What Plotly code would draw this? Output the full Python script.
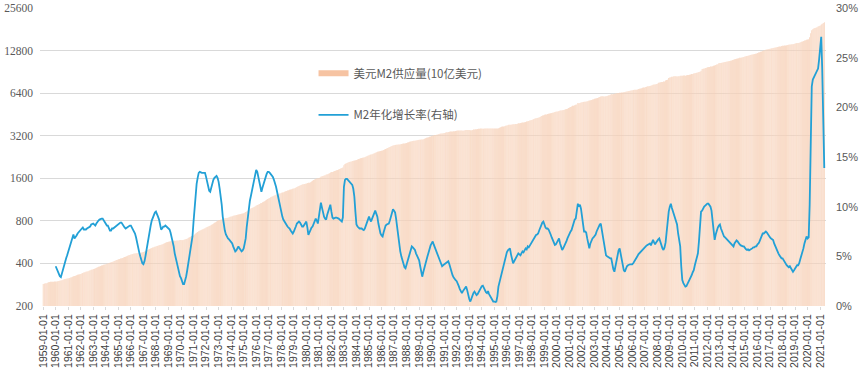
import plotly.graph_objects as go
import pandas as pd
import math

# ---------------- data ----------------
start_month = "1959-01-01"

# US M2 money supply (billions of USD), monthly, 1959-01 .. 2021-05
m2_by_year = {
    1959: [286.6, 287.7, 289.2, 290.1, 292.2, 294.1, 295.2, 296.4, 296.7, 296.5, 297.1, 297.8],
    1960: [298.2, 298.5, 298.9, 300.2, 301.9, 302.4, 304.6, 306.9, 308.8, 309.9, 311.4, 312.4],
    1961: [313.9, 315.9, 317.9, 319.9, 322.2, 324.1, 325.3, 327.6, 329.7, 332.2, 334.6, 335.5],
    1962: [337.2, 339.8, 342.9, 344.7, 346.6, 348.7, 350.4, 352.5, 354.8, 357.7, 360.7, 362.7],
    1963: [365.1, 367.3, 370.3, 373.3, 376.1, 378.6, 381.2, 383.8, 386.2, 389.1, 391.4, 393.2],
    1964: [395.4, 397.4, 400.1, 402.1, 404.3, 407.3, 410.2, 413.4, 416.9, 420.0, 422.4, 424.7],
    1965: [427.7, 430.5, 432.8, 435.3, 437.3, 440.5, 443.5, 446.8, 450.3, 453.6, 456.6, 459.2],
    1966: [462.6, 465.0, 467.3, 469.6, 470.7, 472.0, 472.3, 473.2, 475.0, 475.8, 477.5, 480.2],
    1967: [482.6, 485.6, 490.1, 494.7, 497.3, 501.5, 506.2, 510.4, 514.2, 517.9, 521.2, 524.8],
    1968: [527.8, 530.7, 534.3, 536.8, 539.8, 542.5, 546.2, 551.4, 555.6, 560.2, 563.8, 566.8],
    1969: [569.3, 571.9, 574.3, 575.0, 577.4, 578.4, 578.7, 579.2, 580.0, 580.6, 582.2, 585.9],
    1970: [586.1, 583.9, 585.2, 588.6, 593.1, 596.3, 601.1, 606.5, 612.0, 617.3, 622.5, 626.5],
    1971: [631.0, 640.8, 651.7, 659.8, 668.2, 675.0, 680.6, 686.1, 692.5, 697.7, 703.3, 710.3],
    1972: [717.2, 723.9, 730.9, 736.1, 742.6, 749.9, 758.1, 766.3, 774.2, 781.8, 790.5, 802.3],
    1973: [807.2, 812.4, 815.0, 818.9, 825.0, 831.3, 835.1, 837.2, 839.0, 842.4, 849.8, 855.5],
    1974: [859.2, 863.8, 869.4, 873.3, 876.0, 880.1, 883.5, 886.3, 889.2, 894.0, 898.1, 902.1],
    1975: [906.7, 914.2, 922.6, 931.5, 942.4, 956.0, 967.7, 976.6, 985.5, 992.4, 1000.5, 1016.2],
    1976: [1025.7, 1035.0, 1043.9, 1054.6, 1065.0, 1070.0, 1081.2, 1092.4, 1102.4, 1114.8, 1127.5, 1140.0],
    1977: [1151.0, 1162.5, 1172.7, 1183.6, 1194.2, 1203.1, 1212.6, 1222.1, 1231.5, 1240.4, 1249.3, 1256.1],
    1978: [1263.0, 1269.4, 1276.2, 1285.3, 1295.4, 1303.1, 1309.6, 1318.2, 1328.0, 1334.0, 1339.7, 1348.8],
    1979: [1354.9, 1362.4, 1373.9, 1387.9, 1399.3, 1413.8, 1424.6, 1435.3, 1444.7, 1452.7, 1457.0, 1462.1],
    1980: [1470.4, 1479.5, 1485.6, 1488.9, 1501.5, 1520.4, 1539.1, 1554.9, 1567.6, 1580.0, 1591.4, 1599.8],
    1981: [1605.5, 1616.5, 1638.0, 1654.8, 1662.1, 1672.1, 1683.7, 1698.5, 1711.9, 1723.6, 1738.0, 1755.5],
    1982: [1770.8, 1775.3, 1789.3, 1801.6, 1810.7, 1820.0, 1831.3, 1846.3, 1862.6, 1878.8, 1892.1, 1907.1],
    1983: [1980.0, 2017.5, 2037.9, 2051.4, 2068.6, 2083.8, 2096.2, 2106.3, 2116.3, 2128.6, 2140.0, 2149.6],
    1984: [2157.1, 2173.3, 2187.3, 2199.9, 2212.8, 2225.2, 2234.4, 2244.0, 2256.0, 2268.4, 2289.5, 2310.4],
    1985: [2330.2, 2345.8, 2359.8, 2368.7, 2384.7, 2408.3, 2428.7, 2446.4, 2460.9, 2472.6, 2484.2, 2497.3],
    1986: [2508.1, 2518.0, 2532.8, 2557.3, 2582.4, 2602.4, 2624.3, 2642.8, 2664.6, 2684.5, 2701.1, 2732.1],
    1987: [2741.5, 2749.7, 2757.3, 2766.5, 2773.2, 2775.5, 2782.6, 2791.5, 2804.1, 2816.6, 2822.2, 2826.4],
    1988: [2847.7, 2865.5, 2882.0, 2901.2, 2914.2, 2927.5, 2939.2, 2946.7, 2954.0, 2960.5, 2975.7, 2988.2],
    1989: [2993.1, 2997.9, 3004.6, 3011.9, 3019.7, 3041.6, 3066.1, 3089.4, 3109.4, 3126.3, 3145.4, 3160.0],
    1990: [3182.1, 3199.8, 3214.3, 3231.1, 3236.0, 3252.9, 3268.4, 3289.3, 3307.0, 3314.2, 3321.2, 3329.3],
    1991: [3340.5, 3362.2, 3379.5, 3391.2, 3404.4, 3419.2, 3422.4, 3427.9, 3431.0, 3436.7, 3445.4, 3457.3],
    1992: [3468.2, 3482.1, 3488.4, 3487.7, 3483.4, 3477.1, 3474.3, 3481.0, 3494.6, 3507.6, 3509.7, 3515.0],
    1993: [3512.1, 3503.9, 3504.0, 3509.6, 3536.0, 3544.6, 3551.0, 3557.6, 3567.3, 3578.1, 3589.6, 3599.4],
    1994: [3593.8, 3588.5, 3587.2, 3592.3, 3601.0, 3592.6, 3600.8, 3602.4, 3602.3, 3598.3, 3599.6, 3604.1],
    1995: [3600.0, 3601.1, 3598.8, 3604.9, 3618.1, 3648.9, 3672.8, 3699.0, 3715.5, 3722.6, 3732.7, 3758.5],
    1996: [3772.9, 3789.9, 3820.1, 3823.8, 3831.4, 3843.8, 3852.9, 3855.8, 3864.6, 3878.2, 3895.0, 3913.3],
    1997: [3921.3, 3931.2, 3946.4, 3974.0, 3973.4, 3985.4, 4002.8, 4028.6, 4052.6, 4072.4, 4098.3, 4121.3],
    1998: [4131.0, 4170.8, 4197.8, 4226.9, 4249.9, 4269.8, 4291.9, 4324.8, 4362.4, 4409.2, 4441.8, 4472.5],
    1999: [4494.0, 4512.4, 4528.2, 4558.6, 4578.1, 4594.5, 4616.5, 4635.2, 4653.0, 4676.5, 4703.3, 4727.0],
    2000: [4741.2, 4754.2, 4787.7, 4815.8, 4818.8, 4837.3, 4859.6, 4892.0, 4925.9, 4943.0, 4967.6, 5015.0],
    2001: [5061.4, 5108.3, 5149.2, 5214.8, 5211.1, 5259.1, 5293.4, 5325.6, 5450.4, 5418.4, 5458.0, 5502.4],
    2002: [5525.7, 5546.6, 5559.3, 5563.1, 5592.4, 5604.3, 5644.3, 5677.1, 5696.2, 5733.6, 5773.6, 5805.5],
    2003: [5842.2, 5869.4, 5880.3, 5917.5, 5962.1, 6000.5, 6052.1, 6086.6, 6075.6, 6065.1, 6066.4, 6072.0],
    2004: [6104.0, 6147.1, 6184.1, 6243.1, 6298.8, 6296.6, 6316.1, 6330.2, 6363.5, 6388.2, 6413.4, 6427.7],
    2005: [6433.2, 6450.1, 6463.9, 6465.0, 6486.0, 6518.8, 6535.3, 6564.5, 6597.7, 6623.8, 6646.5, 6671.3],
    2006: [6699.5, 6730.6, 6751.4, 6761.6, 6759.3, 6800.1, 6838.6, 6866.3, 6899.5, 6941.6, 6976.4, 7004.3],
    2007: [7027.0, 7061.0, 7097.7, 7150.9, 7174.3, 7191.5, 7214.5, 7292.3, 7338.4, 7354.3, 7381.7, 7415.8],
    2008: [7468.6, 7570.3, 7622.6, 7645.5, 7660.9, 7677.1, 7721.8, 7730.3, 7847.0, 7934.4, 7966.5, 8190.5],
    2009: [8262.3, 8289.6, 8347.2, 8355.3, 8421.3, 8413.7, 8412.0, 8385.3, 8419.9, 8443.0, 8480.2, 8495.0],
    2010: [8482.6, 8532.7, 8513.6, 8502.7, 8574.6, 8598.4, 8604.8, 8643.2, 8686.2, 8726.9, 8752.6, 8802.9],
    2011: [8830.5, 8893.2, 8929.0, 8957.6, 9013.6, 9080.4, 9227.8, 9484.7, 9539.1, 9567.4, 9629.7, 9658.3],
    2012: [9742.4, 9786.2, 9797.6, 9858.2, 9887.5, 9935.4, 9987.9, 10030.5, 10114.2, 10183.0, 10249.6, 10409.4],
    2013: [10454.8, 10475.1, 10502.9, 10546.2, 10586.4, 10612.3, 10652.0, 10701.9, 10751.5, 10803.0, 10830.9, 10877.8],
    2014: [10974.0, 11044.3, 11105.7, 11151.7, 11208.0, 11263.0, 11296.6, 11365.8, 11395.1, 11418.0, 11471.4, 11540.3],
    2015: [11607.9, 11680.1, 11704.3, 11752.4, 11828.4, 11888.4, 11939.1, 11996.1, 12046.2, 12093.0, 12154.4, 12207.9],
    2016: [12312.8, 12390.1, 12459.4, 12565.7, 12611.0, 12704.5, 12789.9, 12855.5, 12947.2, 13022.0, 13096.3, 13138.3],
    2017: [13172.4, 13233.4, 13301.4, 13341.5, 13397.8, 13469.3, 13530.9, 13577.2, 13618.6, 13667.0, 13696.1, 13776.9],
    2018: [13821.1, 13853.1, 13887.6, 13912.0, 13959.8, 14011.4, 14061.4, 14123.0, 14142.1, 14169.5, 14185.5, 14267.3],
    2019: [14353.4, 14426.5, 14457.1, 14474.1, 14557.5, 14656.2, 14772.5, 14862.0, 14949.5, 15077.5, 15153.8, 15251.7],
    2020: [15319.2, 15414.9, 15913.7, 16985.8, 17809.6, 18122.7, 18316.9, 18459.4, 18592.6, 18733.6, 18916.8, 19124.1],
    2021: [19268.0, 19542.0, 19788.0, 20047.0, 20269.0],
}

# M2 year-over-year growth rate (%), monthly, 1960-01 .. 2021-05
growth_by_year = {
    1960: [4.0, 3.7, 3.4, 3.3, 3.0, 2.9, 3.3, 3.8, 4.1, 4.5, 4.8, 5.1],
    1961: [5.5, 5.9, 6.3, 6.7, 7.0, 7.2, 6.8, 6.9, 7.1, 7.3, 7.4, 7.5],
    1962: [7.6, 7.8, 7.9, 7.7, 7.7, 7.7, 7.8, 7.9, 7.9, 8.0, 8.2, 8.3],
    1963: [8.3, 8.2, 8.1, 8.3, 8.5, 8.6, 8.7, 8.8, 8.8, 8.8, 8.6, 8.4],
    1964: [8.3, 8.1, 8.1, 7.9, 7.6, 7.6, 7.8, 7.8, 7.9, 8.0, 8.1, 8.2],
    1965: [8.3, 8.3, 8.4, 8.4, 8.2, 8.0, 7.9, 7.8, 7.9, 8.0, 8.1, 8.1],
    1966: [8.1, 7.9, 7.8, 7.6, 7.3, 6.9, 6.3, 5.9, 5.4, 5.0, 4.6, 4.3],
    1967: [4.2, 4.5, 5.0, 5.7, 6.4, 7.0, 7.6, 8.1, 8.6, 8.9, 9.2, 9.4],
    1968: [9.5, 9.3, 9.0, 8.7, 8.2, 7.7, 7.8, 8.0, 8.0, 8.1, 8.0, 7.9],
    1969: [7.8, 7.7, 7.4, 7.0, 6.6, 6.0, 5.3, 4.8, 4.3, 3.8, 3.4, 3.0],
    1970: [2.8, 2.5, 2.2, 2.2, 2.5, 3.0, 3.6, 4.3, 5.0, 5.7, 6.3, 7.0],
    1971: [8.5, 10.0, 11.0, 12.3, 12.9, 13.4, 13.5, 13.4, 13.4, 13.4, 13.4, 13.4],
    1972: [13.0, 12.4, 12.0, 11.6, 11.5, 12.0, 12.5, 12.7, 12.9, 13.0, 13.1, 12.9],
    1973: [12.5, 11.8, 11.2, 10.2, 9.0, 8.2, 7.6, 7.2, 6.9, 6.8, 6.7, 6.6],
    1974: [6.5, 6.3, 6.0, 5.7, 5.5, 5.6, 5.8, 6.0, 5.8, 5.6, 5.5, 5.6],
    1975: [5.8, 6.3, 6.8, 8.0, 9.0, 10.0, 10.6, 11.1, 11.7, 12.2, 12.8, 13.3],
    1976: [13.7, 13.5, 13.0, 12.4, 12.0, 11.5, 11.9, 12.3, 12.7, 13.0, 13.3, 13.5],
    1977: [13.5, 13.4, 13.3, 13.2, 13.0, 12.7, 12.4, 12.0, 11.5, 11.0, 10.3, 10.0],
    1978: [9.6, 9.0, 8.7, 8.5, 8.3, 8.1, 8.0, 7.9, 7.8, 7.6, 7.4, 7.3],
    1979: [7.5, 7.7, 8.0, 8.3, 8.4, 8.5, 8.4, 8.2, 8.0, 8.0, 8.2, 8.4],
    1980: [8.5, 7.9, 7.15, 7.4, 7.7, 7.9, 8.0, 8.3, 8.6, 8.8, 8.6, 8.3],
    1981: [9.0, 9.7, 10.4, 9.9, 9.4, 9.0, 8.8, 8.7, 9.2, 9.6, 10.0, 10.2],
    1982: [9.5, 8.9, 8.8, 8.9, 8.9, 8.9, 8.8, 8.8, 8.7, 8.6, 8.5, 8.9],
    1983: [12.0, 12.7, 12.8, 12.8, 12.7, 12.6, 12.5, 12.4, 12.2, 11.8, 11.0, 9.5],
    1984: [8.2, 8.0, 7.9, 7.8, 7.8, 7.8, 7.7, 7.65, 7.8, 8.1, 8.5, 8.9],
    1985: [9.0, 8.7, 8.5, 8.8, 9.1, 9.4, 9.6, 9.3, 9.0, 8.3, 7.6, 7.3],
    1986: [7.1, 7.0, 7.4, 7.8, 8.1, 8.2, 8.3, 8.3, 8.6, 9.0, 9.4, 9.75],
    1987: [9.6, 9.4, 8.8, 7.9, 6.9, 6.0, 5.5, 5.0, 4.6, 4.2, 3.9, 3.8],
    1988: [4.2, 4.6, 5.0, 5.4, 5.7, 6.0, 5.9, 5.8, 5.65, 5.3, 5.0, 4.7],
    1989: [4.6, 4.0, 3.4, 2.95, 3.4, 3.9, 4.3, 4.6, 5.0, 5.4, 5.8, 6.1],
    1990: [6.3, 6.5, 6.2, 5.9, 5.6, 5.3, 5.1, 4.8, 4.5, 4.2, 4.0, 4.1],
    1991: [4.2, 4.3, 4.4, 4.5, 4.5, 4.2, 3.8, 3.4, 3.1, 2.9, 2.7, 2.6],
    1992: [2.5, 2.3, 2.0, 1.7, 1.5, 1.3, 1.5, 1.7, 1.9, 1.95, 1.6, 1.1],
    1993: [0.7, 0.45, 0.8, 1.1, 1.3, 1.45, 1.3, 1.1, 1.2, 1.4, 1.6, 1.8],
    1994: [2.0, 2.05, 1.8, 1.5, 1.4, 1.3, 1.5, 1.2, 1.0, 0.8, 0.6, 0.45],
    1995: [0.45, 0.4, 0.45, 1.0, 1.95, 2.4, 2.9, 3.3, 3.6, 4.1, 4.6, 5.1],
    1996: [5.4, 5.6, 5.7, 5.8, 5.2, 4.7, 4.3, 4.5, 4.7, 4.9, 5.1, 5.3],
    1997: [5.2, 5.1, 5.3, 5.5, 5.4, 5.6, 5.8, 5.7, 6.0, 5.9, 6.1, 6.3],
    1998: [6.5, 6.7, 6.9, 7.0, 7.15, 7.2, 7.3, 7.6, 7.9, 8.2, 8.4, 8.5],
    1999: [8.1, 7.9, 7.8, 7.8, 7.7, 7.5, 7.2, 6.9, 6.6, 6.4, 6.15, 6.2],
    2000: [6.4, 6.6, 6.8, 6.3, 5.9, 5.65, 5.8, 6.0, 6.2, 6.5, 6.8, 7.1],
    2001: [7.3, 7.5, 7.65, 8.0, 8.4, 8.7, 8.8, 9.6, 10.3, 10.0, 10.2, 9.8],
    2002: [9.0, 8.2, 7.5, 7.5, 7.4, 6.8, 6.3, 5.8, 6.3, 6.6, 6.8, 6.9],
    2003: [7.0, 7.2, 7.5, 7.8, 8.0, 8.2, 8.3, 7.6, 6.8, 6.0, 5.5, 5.1],
    2004: [5.0, 4.9, 4.9, 4.8, 4.8, 4.2, 3.7, 3.45, 4.0, 4.6, 5.2, 5.6],
    2005: [5.8, 5.2, 4.6, 4.0, 3.6, 3.45, 3.8, 4.0, 4.1, 4.2, 4.2, 4.2],
    2006: [4.2, 4.3, 4.5, 4.7, 4.9, 5.0, 5.2, 5.3, 5.5, 5.6, 5.7, 5.8],
    2007: [5.9, 6.0, 6.1, 6.2, 6.3, 6.3, 6.1, 6.3, 6.65, 6.4, 6.2, 6.4],
    2008: [6.6, 6.7, 6.8, 6.5, 6.0, 5.8, 5.65, 5.9, 6.4, 7.65, 8.5, 9.5],
    2009: [10.0, 10.3, 9.9, 9.6, 9.3, 9.0, 8.7, 8.2, 7.3, 6.6, 6.0, 4.0],
    2010: [2.6, 2.3, 2.1, 1.95, 2.0, 2.2, 2.4, 2.6, 2.8, 3.1, 3.4, 3.6],
    2011: [4.1, 4.5, 4.9, 5.3, 6.5, 8.0, 9.5, 9.6, 9.9, 10.0, 10.1, 10.2],
    2012: [10.3, 10.3, 10.2, 10.0, 9.6, 8.5, 7.5, 6.65, 7.2, 7.6, 7.9, 8.1],
    2013: [8.2, 7.8, 7.5, 7.3, 7.0, 6.9, 6.8, 6.7, 6.6, 6.5, 6.4, 6.3],
    2014: [6.2, 6.0, 6.3, 6.5, 6.6, 6.5, 6.3, 6.2, 6.1, 6.0, 6.0, 6.0],
    2015: [5.8, 5.7, 5.65, 5.7, 5.6, 5.65, 5.7, 5.8, 5.9, 5.9, 6.0, 6.0],
    2016: [6.2, 6.3, 6.5, 6.8, 7.1, 7.3, 7.3, 7.4, 7.5, 7.4, 7.2, 7.0],
    2017: [6.9, 6.8, 6.7, 6.65, 6.3, 6.0, 5.8, 5.5, 5.3, 5.1, 4.9, 4.8],
    2018: [4.8, 4.6, 4.4, 4.3, 4.1, 4.0, 3.9, 4.0, 3.8, 3.7, 3.45, 3.6],
    2019: [3.8, 4.0, 4.1, 4.1, 4.3, 4.7, 5.0, 5.3, 5.8, 6.3, 6.7, 7.0],
    2020: [6.8, 6.9, 10.2, 17.0, 22.1, 22.8, 23.0, 23.3, 23.5, 23.7, 23.9, 24.8],
    2021: [25.8, 27.1, 24.0, 18.0, 13.9],
}

left_ticks = [200, 400, 800, 1600, 3200, 6400, 12800, 25600]
right_ticks = [0, 5, 10, 15, 20, 25, 30]

bar_name = "美元M2供应量(10亿美元)"
line_name = "M2年化增长率(右轴)"

BAR_COLOR = "#F6C09D"
LINE_COLOR = "#22A0D6"

# ---------------- build series ----------------
m2_values = [v for y in sorted(m2_by_year) for v in m2_by_year[y]]
m2_dates = pd.date_range(start_month, periods=len(m2_values), freq="MS")
g_values = [v for y in sorted(growth_by_year) for v in growth_by_year[y]]
g_dates = pd.date_range("1960-01-01", periods=len(g_values), freq="MS")

fig = go.Figure()
fig.add_trace(go.Bar(
    x=m2_dates, y=m2_values, name=bar_name,
    marker=dict(color=BAR_COLOR, line=dict(width=0.25, color="rgba(255,255,255,0.6)")),
    showlegend=False,
))
# legend proxy for the bar series (thin wide swatch like the original)
fig.add_trace(go.Scatter(
    x=[None], y=[None], name=bar_name, mode="lines",
    line=dict(color="#F6C3A2", width=6), legend="legend",
))
fig.add_trace(go.Scatter(
    x=g_dates, y=g_values, name=line_name, mode="lines",
    line=dict(color=LINE_COLOR, width=1.8),
    yaxis="y2", legend="legend2",
))

legend_font = dict(family="Noto Sans CJK SC", size=11.5, color="#595959")

fig.update_layout(
    width=864, height=368,
    margin=dict(l=40, r=38, t=8, b=62, autoexpand=False),
    paper_bgcolor="white", plot_bgcolor="white",
    bargap=0.3,
    font=dict(family="Liberation Sans, Arial, sans-serif", color="#595959", size=11),
    xaxis=dict(
        type="date", automargin=False,
        range=["1958-10-01", "2021-06-20"],
        tick0=start_month, dtick="M12", tickformat="%Y-%m-%d",
        tickangle=-90, tickfont=dict(size=10.5, color="#404040"),
        showgrid=False, ticks="outside", ticklen=3, tickcolor="#D9D9D9",
        showline=False, zeroline=False,
    ),
    yaxis=dict(
        type="log", automargin=False,
        range=[math.log10(200), math.log10(25600)],
        tickvals=left_ticks, ticktext=[str(t) for t in left_ticks],
        tickfont=dict(family="Liberation Serif, serif", size=11.5, color="#595959"),
        showgrid=True, gridcolor="#D9D9D9", gridwidth=1,
        zeroline=False, showline=False, ticks="", ticklabelstandoff=6,
    ),
    yaxis2=dict(
        overlaying="y", side="right", automargin=False,
        range=[0, 30], tickvals=right_ticks,
        ticktext=[f"{t}%" for t in right_ticks],
        tickfont=dict(size=11, color="#595959"),
        showgrid=False, zeroline=False, showline=False, ticks="",
        ticklabelstandoff=9,
    ),
    legend=dict(
        x=0.348, y=0.83, xanchor="left", yanchor="top",
        bgcolor="rgba(0,0,0,0)", itemwidth=30, font=legend_font,
    ),
    legend2=dict(
        x=0.348, y=0.69, xanchor="left", yanchor="top",
        bgcolor="rgba(0,0,0,0)", itemwidth=30, font=legend_font,
    ),
    showlegend=True,
)

fig.write_html(
    "out.html",
    config={"displayModeBar": False},
    post_script="document.body.style.margin='0';document.body.style.overflow='hidden';",
)
